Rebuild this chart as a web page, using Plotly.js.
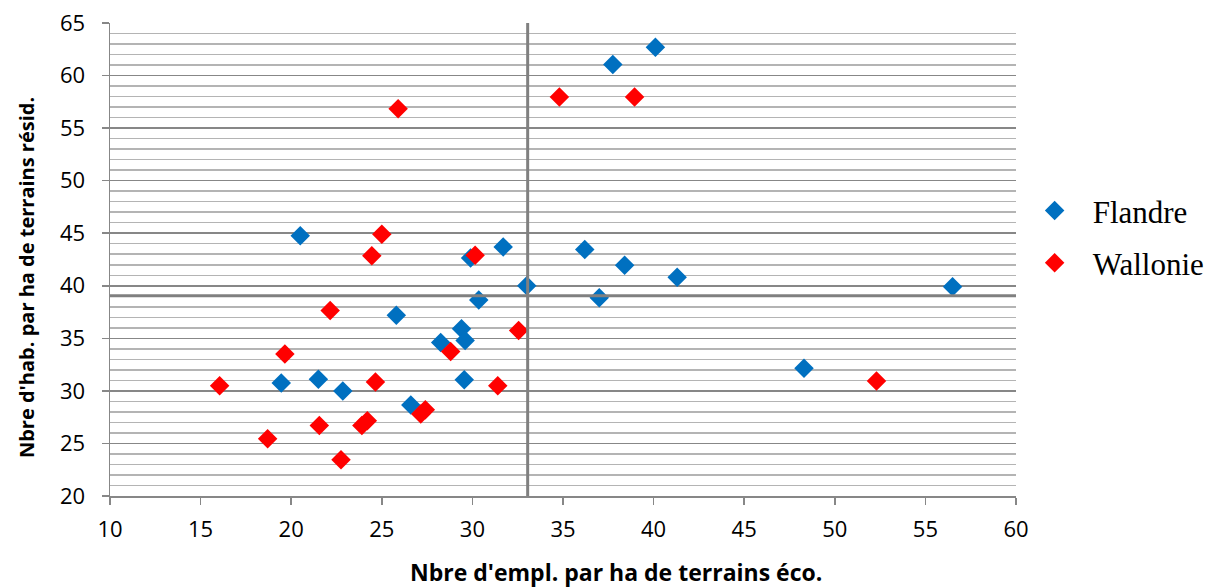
<!DOCTYPE html>
<html>
<head>
<meta charset="utf-8">
<script src="https://cdn.plot.ly/plotly-3.0.1.min.js"></script>
<style>html,body{margin:0;padding:0;background:#fff;}#chart{width:1219px;height:587px;}</style>
</head>
<body>
<div id="chart"></div>
<script>
// Flandre
const flandreX = [40.1, 37.75, 20.5, 31.7, 29.9, 36.2, 38.4, 41.3, 33.0, 37.0, 30.35, 56.5, 25.8, 29.4, 29.6, 28.25, 29.55, 48.3, 19.45, 21.5, 22.85, 26.6];
const flandreY = [62.7, 61.05, 44.75, 43.7, 42.65, 43.45, 41.95, 40.8, 40.0, 38.85, 38.65, 39.9, 37.2, 35.9, 34.8, 34.6, 31.05, 32.15, 30.75, 31.1, 30.0, 28.65];
// Wallonie
const wallonieX = [25.9, 34.8, 38.95, 25.0, 24.45, 30.15, 22.15, 32.55, 19.65, 28.8, 16.05, 24.65, 31.4, 52.3, 21.55, 23.9, 24.2, 18.7, 22.75, 27.15, 27.4];
const wallonieY = [56.85, 57.95, 57.95, 44.9, 42.85, 42.9, 37.65, 35.75, 33.5, 33.75, 30.5, 30.85, 30.5, 30.95, 26.7, 26.7, 27.15, 25.45, 23.45, 27.8, 28.2];
// reference lines (averages)
const refX = 33.05;
const refY = 39.05;
// axes
const xRange = [10, 60];
const yRange = [20, 65];
const seriesNames = ['Flandre', 'Wallonie'];
const xTitle = "Nbre d'empl. par ha de terrains éco.";
const yTitle = "Nbre d'hab. par ha de terrains résid.";

const tickFont = {family: 'Open Sans, sans-serif', size: 22, color: '#000'};
const xTitleFont = {family: 'Open Sans, sans-serif', size: 23, color: '#000', weight: 'bold'};
const yTitleFont = {family: 'Open Sans, sans-serif', size: 20, color: '#000', weight: 'bold'};

const traces = [
  {x: flandreX, y: flandreY, name: seriesNames[0], type: 'scatter', mode: 'markers', legendgroup: 'a',
   marker: {symbol: 'diamond', size: 15, color: '#0070C0'}},
  {x: wallonieX, y: wallonieY, name: seriesNames[1], type: 'scatter', mode: 'markers', legendgroup: 'b',
   marker: {symbol: 'diamond', size: 15, color: '#FF0000'}}
];

const layout = {
  width: 1219, height: 587,
  margin: {l: 110, r: 203, t: 23, b: 91},
  paper_bgcolor: '#fff', plot_bgcolor: '#fff',
  showlegend: true,
  legend: {xref: 'container', x: 0.834, xanchor: 'left', y: 0.548, yanchor: 'middle', itemwidth: 66, tracegroupgap: 9,
           traceorder: 'grouped', font: {family: 'Liberation Serif, serif', size: 31, color: '#000'}},
  xaxis: {range: xRange, dtick: 5, tick0: 10, showgrid: false, zeroline: false,
          showline: true, linecolor: '#878787', linewidth: 1.5,
          ticks: 'outside', ticklen: 7, tickcolor: '#878787', tickwidth: 1.5,
          tickfont: tickFont, ticklabelstandoff: 6},
  yaxis: {range: yRange, dtick: 5, tick0: 20, showgrid: true, gridcolor: '#878787', gridwidth: 1.5,
          zeroline: false, showline: true, linecolor: '#878787', linewidth: 1.5,
          ticks: 'outside', ticklen: 7, tickcolor: '#878787', tickwidth: 1.5,
          tickfont: tickFont, ticklabelstandoff: 12,
          minor: {dtick: 1, showgrid: true, gridcolor: '#b4b4b4', gridwidth: 1.5, ticks: ''}},
  annotations: [
    {text: xTitle, xref: 'paper', yref: 'paper', x: 0.5585, y: -0.16, xanchor: 'center', yanchor: 'middle',
     showarrow: false, font: xTitleFont},
    {text: yTitle, xref: 'paper', yref: 'paper', x: -0.092, y: 0.462, xanchor: 'center', yanchor: 'middle',
     textangle: -90, showarrow: false, font: yTitleFont}
  ],
  shapes: [
    {type: 'line', xref: 'x', yref: 'y', x0: refX, x1: refX, y0: yRange[0], y1: yRange[1],
     line: {color: '#808080', width: 3}},
    {type: 'line', xref: 'x', yref: 'y', x0: xRange[0], x1: xRange[1], y0: refY, y1: refY,
     line: {color: '#808080', width: 3}}
  ]
};

Plotly.newPlot('chart', traces, layout, {displayModeBar: false, staticPlot: true});
</script>
</body>
</html>
